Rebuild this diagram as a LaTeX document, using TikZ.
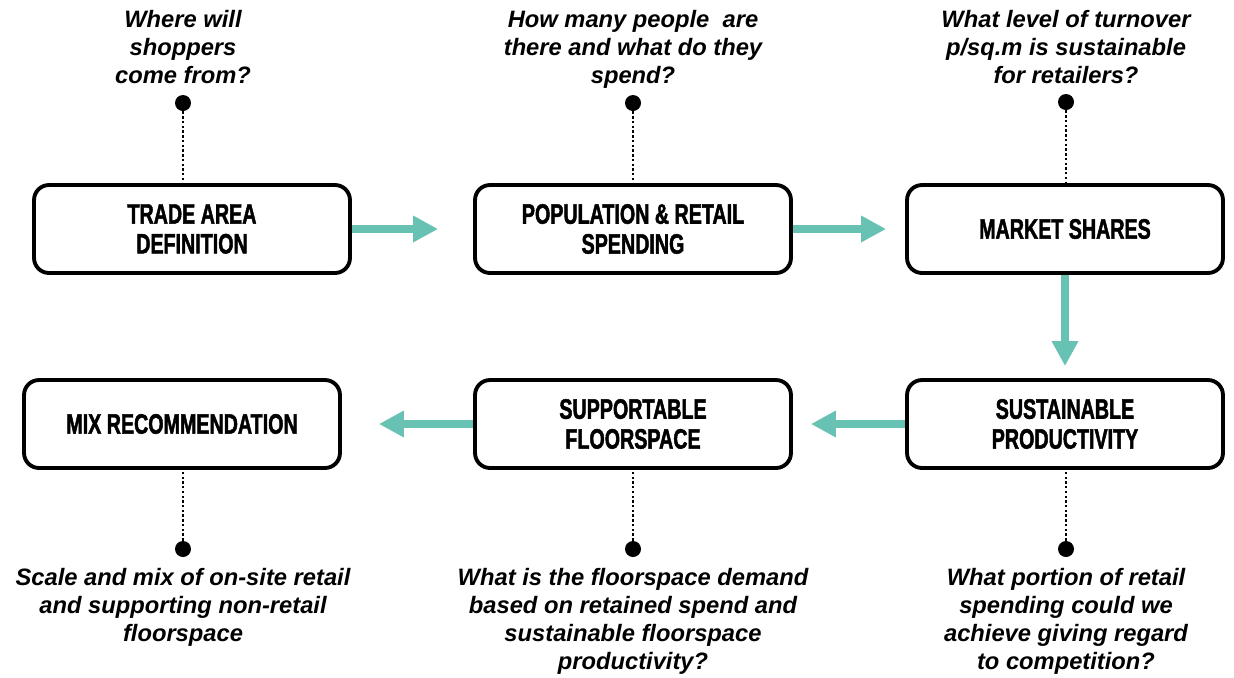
\documentclass[tikz,border=0pt]{standalone}
\usepackage{fontspec}
\setmainfont{Liberation Sans}
\newfontfamily\boxfont[FakeStretch=0.7,FakeBold=1.6]{Liberation Sans}
\usetikzlibrary{arrows.meta,positioning}
\definecolor{flowteal}{HTML}{68C2B4}

\begin{document}
\begin{tikzpicture}[x=0.02cm, y=-0.02cm,
    box/.style = {draw, line width=2.2pt, rounded corners=0.3cm, minimum width=6.32cm,
      minimum height=1.76cm, align=center, font=\boxfont\bfseries\fontsize{16}{17}\selectfont},
    question/.style = {align=center, inner sep=0pt, font=\bfseries\itshape\fontsize{13.5}{15.9}\selectfont},
    pin/.style = {circle, fill=black, inner sep=0pt, minimum size=0.32cm},
    leader/.style = {line width=1.4pt, dash pattern=on 1.4pt off 1.3pt},
    flow/.style = {flowteal, line width=4pt, -{Triangle[length=0.5cm, width=0.5cm]}}]
     \useasboundingbox (0,0) rectangle (1234,677);
     % the boxes
     \node[box] (trade) at (192,229) {TRADE AREA\\DEFINITION};
     \node[box] (population) at (633,229) {POPULATION \& RETAIL\\SPENDING};
     \node[box] (market) at (1065,229) {MARKET SHARES};
     \node[box] (productivity) at (1065,424) {SUSTAINABLE\\PRODUCTIVITY};
     \node[box] (floorspace) at (633,424) {SUPPORTABLE\\FLOORSPACE};
     \node[box] (mix) at (182,424) {MIX RECOMMENDATION};
     % the pins and questions
     \node[pin] (trade pin) at (183,103) {};
     \node[pin] (population pin) at (633,103) {};
     \node[pin] (market pin) at (1066,102) {};
     \node[pin] (productivity pin) at (1066,549) {};
     \node[pin] (floorspace pin) at (633,549) {};
     \node[pin] (mix pin) at (183,549) {};
     \node[question, above=0.22cm of trade pin] (trade q) {Where will\\shoppers\\come from?};
     \node[question, above=0.12cm of population pin] (population q) {How many people\ \ are\\there and what do they\\spend?};
     \node[question, above=0.2cm of market pin] (market q) {What level of turnover\\p/sq.m is sustainable\\for retailers?};
     \node[question, below=0.22cm of productivity pin] (productivity q) {What portion of retail\\spending could we\\achieve giving regard\\to competition?};
     \node[question, below=0.22cm of floorspace pin] (floorspace q) {What is the floorspace demand\\based on retained spend and\\sustainable floorspace\\productivity?};
     \node[question, below=0.22cm of mix pin] (mix q) {Scale and mix of on-site retail\\and supporting non-retail\\floorspace};
     % the leaders
     \draw[leader] (trade pin) -- (trade pin |- trade.north);
     \draw[leader] (population pin) -- (population pin |- population.north);
     \draw[leader] (market pin) -- (market pin |- market.north);
     \draw[leader] (productivity pin) -- (productivity pin |- productivity.south);
     \draw[leader] (floorspace pin) -- (floorspace pin |- floorspace.south);
     \draw[leader] (mix pin) -- (mix pin |- mix.south);
     % the arrows
     \draw[flow, shorten >=0.7cm] (trade) -- (population);
     \draw[flow, shorten >=0.38cm] (population) -- (market);
     \draw[flow, shorten >=0.24cm] (market) -- (productivity);
     \draw[flow, shorten >=0.36cm] (productivity) -- (floorspace);
     \draw[flow, shorten >=0.74cm] (floorspace) -- (mix);
\end{tikzpicture}
\end{document}
